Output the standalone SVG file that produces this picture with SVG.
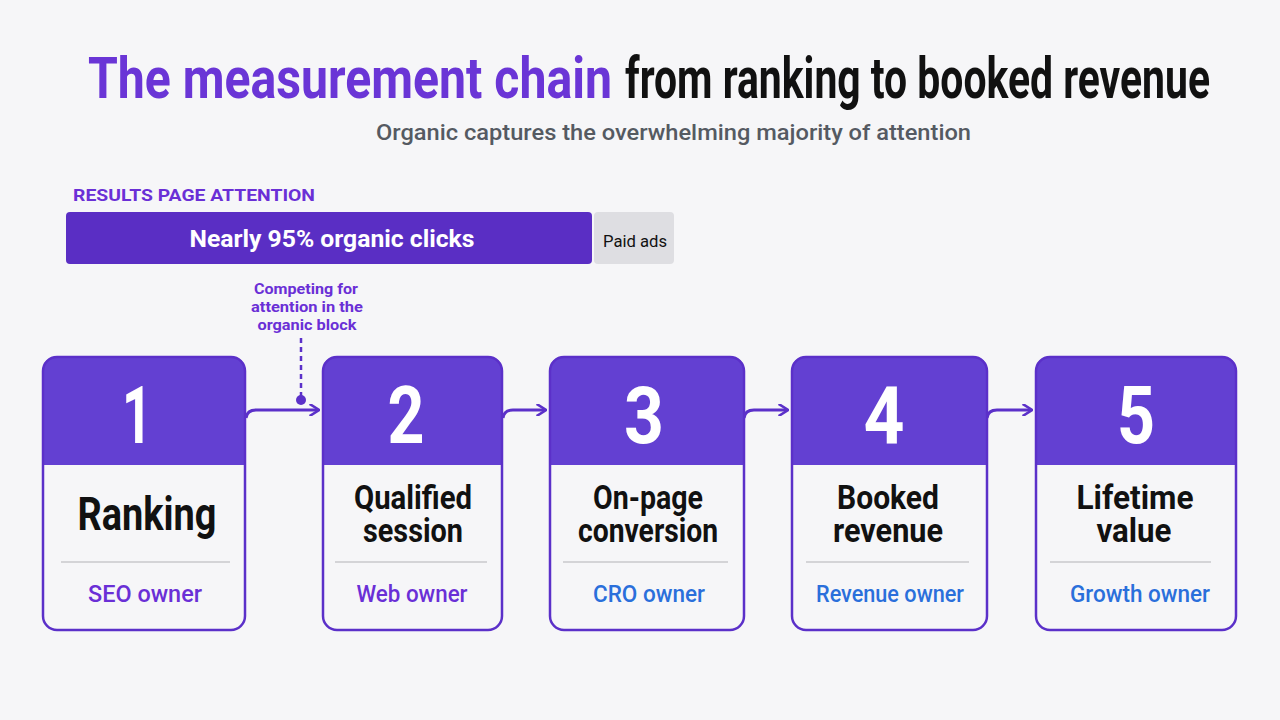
<svg xmlns="http://www.w3.org/2000/svg" width="1280" height="720" viewBox="0 0 1280 720">
<defs>
<style>
.t{font-family:Roboto,"Liberation Sans",sans-serif}
.b{font-weight:700}
.card{fill:none;stroke:#5b30c9;stroke-width:2.5}
.hdr{fill:#6340d2}
.num{font-family:Roboto,"Liberation Sans",sans-serif;font-weight:700;font-size:80px;fill:#fff;text-anchor:middle}
.name{font-family:Roboto,"Liberation Sans",sans-serif;font-weight:700;fill:#111;text-anchor:middle}
.own{font-family:Roboto,"Liberation Sans",sans-serif;font-weight:500;font-size:24px;text-anchor:middle}
.div{stroke:#c8c8cc;stroke-width:1.5}
.conn{fill:none;stroke:#5b30c9;stroke-width:3}
</style>
<marker id="ah" viewBox="0 0 10 10" refX="8" refY="5" markerWidth="4" markerHeight="4" orient="auto" markerUnits="strokeWidth">
<path d="M1 0 L9 5 L1 10" fill="none" stroke="#5b30c9" stroke-width="2.2"/>
</marker>
</defs>
<rect width="1280" height="720" fill="#f6f6f8"/>

<g id="title">
<text class="t b" x="88" y="98" font-size="58" fill="#6a35d6" textLength="524" lengthAdjust="spacingAndGlyphs">The measurement chain</text>
<text class="t b" x="625" y="98" font-size="58" fill="#111" textLength="585" lengthAdjust="spacingAndGlyphs">from ranking to booked revenue</text>
<text class="t" x="376" y="140" font-size="22" font-weight="500" fill="#555a62" textLength="595" lengthAdjust="spacingAndGlyphs">Organic captures the overwhelming majority of attention</text>
</g>

<g id="attention-bar">
<text class="t b" x="73" y="201" font-size="17" fill="#6a2fd6" textLength="242" lengthAdjust="spacingAndGlyphs">RESULTS PAGE ATTENTION</text>
<rect x="66" y="212" width="526" height="52" rx="4" fill="#5a2ec4"/>
<text class="t b" x="332" y="247" font-size="24" fill="#fff" text-anchor="middle" textLength="285" lengthAdjust="spacingAndGlyphs">Nearly 95% organic clicks</text>
<rect x="594" y="212" width="80" height="52" rx="4" fill="#dedee2"/>
<text class="t" x="635" y="247" font-size="16" fill="#111" text-anchor="middle" textLength="64" lengthAdjust="spacingAndGlyphs">Paid ads</text>
</g>

<g id="annotation">
<text class="t b" x="306" y="294" font-size="15" fill="#6a2fd6" text-anchor="middle" textLength="104" lengthAdjust="spacingAndGlyphs">Competing for</text>
<text class="t b" x="307" y="312" font-size="15" fill="#6a2fd6" text-anchor="middle" textLength="112" lengthAdjust="spacingAndGlyphs">attention in the</text>
<text class="t b" x="307" y="330" font-size="15" fill="#6a2fd6" text-anchor="middle" textLength="99" lengthAdjust="spacingAndGlyphs">organic block</text>
</g>

<g id="connectors">
<line x1="301" y1="338" x2="301" y2="396" stroke="#5b30c9" stroke-width="2.5" stroke-dasharray="5 4"/>
<circle cx="301" cy="400" r="5" fill="#5b30c9"/>
<path class="conn" d="M246 418 Q247 410 256 410 L318 410" marker-end="url(#ah)"/>
<path class="conn" d="M503 418 Q504 410 513 410 L545 410" marker-end="url(#ah)"/>
<path class="conn" d="M744 418 Q745 410 754 410 L787 410" marker-end="url(#ah)"/>
<path class="conn" d="M987 418 Q988 410 997 410 L1031 410" marker-end="url(#ah)"/>
</g>

<g id="step1">
<path class="hdr" d="M43 465 V371 Q43 357 57 357 H231 Q245 357 245 371 V465 Z"/>
<rect class="card" x="43" y="357" width="202" height="273" rx="14"/>
<text class="num" x="137" y="443" textLength="30" lengthAdjust="spacingAndGlyphs">1</text>
<text class="name" x="147" y="530" font-size="46" textLength="139" lengthAdjust="spacingAndGlyphs">Ranking</text>
<line class="div" x1="61" y1="562" x2="230" y2="562"/>
<text class="own" x="145" y="602" fill="#6a2fd6" textLength="114" lengthAdjust="spacingAndGlyphs">SEO owner</text>
</g>

<g id="step2">
<path class="hdr" d="M323 465 V371 Q323 357 337 357 H488 Q502 357 502 371 V465 Z"/>
<rect class="card" x="323" y="357" width="179" height="273" rx="14"/>
<text class="num" x="406" y="443" textLength="37" lengthAdjust="spacingAndGlyphs">2</text>
<text class="name" x="413" y="509" font-size="33" textLength="118" lengthAdjust="spacingAndGlyphs">Qualified</text>
<text class="name" x="413" y="542" font-size="33" textLength="100" lengthAdjust="spacingAndGlyphs">session</text>
<line class="div" x1="335" y1="562" x2="487" y2="562"/>
<text class="own" x="412" y="602" fill="#6a2fd6" textLength="111" lengthAdjust="spacingAndGlyphs">Web owner</text>
</g>

<g id="step3">
<path class="hdr" d="M550 465 V371 Q550 357 564 357 H730 Q744 357 744 371 V465 Z"/>
<rect class="card" x="550" y="357" width="194" height="273" rx="14"/>
<text class="num" x="644" y="443" textLength="40" lengthAdjust="spacingAndGlyphs">3</text>
<text class="name" x="648" y="509" font-size="33" textLength="110" lengthAdjust="spacingAndGlyphs">On-page</text>
<text class="name" x="648" y="542" font-size="33" textLength="140" lengthAdjust="spacingAndGlyphs">conversion</text>
<line class="div" x1="563" y1="562" x2="728" y2="562"/>
<text class="own" x="649" y="602" fill="#2a6fdb" textLength="112" lengthAdjust="spacingAndGlyphs">CRO owner</text>
</g>

<g id="step4">
<path class="hdr" d="M792 465 V371 Q792 357 806 357 H973 Q987 357 987 371 V465 Z"/>
<rect class="card" x="792" y="357" width="195" height="273" rx="14"/>
<text class="num" x="884" y="443" textLength="41" lengthAdjust="spacingAndGlyphs">4</text>
<text class="name" x="888" y="509" font-size="33" textLength="102" lengthAdjust="spacingAndGlyphs">Booked</text>
<text class="name" x="888" y="542" font-size="33" textLength="110" lengthAdjust="spacingAndGlyphs">revenue</text>
<line class="div" x1="806" y1="562" x2="969" y2="562"/>
<text class="own" x="890" y="602" fill="#2a6fdb" textLength="148" lengthAdjust="spacingAndGlyphs">Revenue owner</text>
</g>

<g id="step5">
<path class="hdr" d="M1036 465 V371 Q1036 357 1050 357 H1222 Q1236 357 1236 371 V465 Z"/>
<rect class="card" x="1036" y="357" width="200" height="273" rx="14"/>
<text class="num" x="1136" y="443" textLength="38" lengthAdjust="spacingAndGlyphs">5</text>
<text class="name" x="1135" y="509" font-size="33" textLength="117" lengthAdjust="spacingAndGlyphs">Lifetime</text>
<text class="name" x="1134" y="542" font-size="33" textLength="75" lengthAdjust="spacingAndGlyphs">value</text>
<line class="div" x1="1050" y1="562" x2="1211" y2="562"/>
<text class="own" x="1140" y="602" fill="#2a6fdb" textLength="140" lengthAdjust="spacingAndGlyphs">Growth owner</text>
</g>
</svg>
